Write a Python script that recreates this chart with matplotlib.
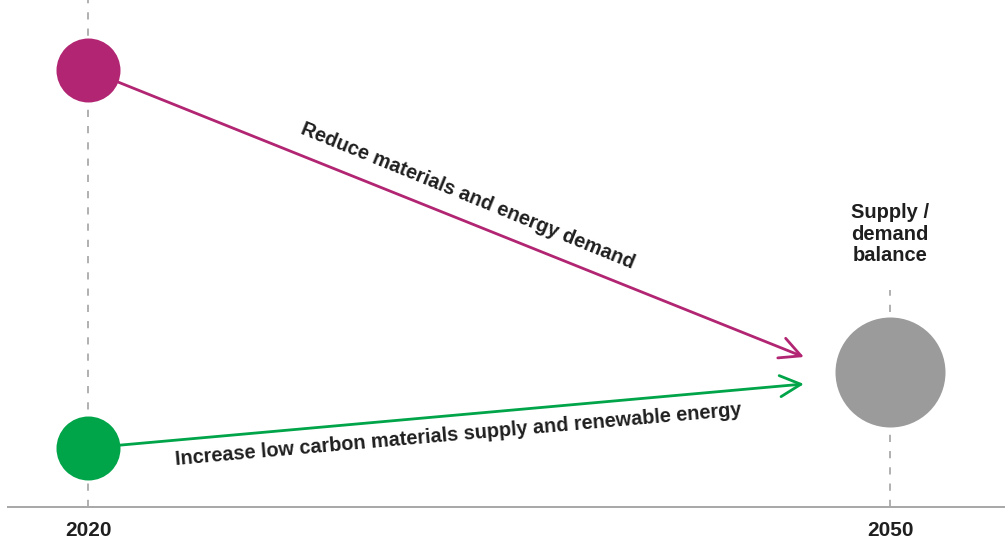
import matplotlib
matplotlib.use("Agg")
import matplotlib.pyplot as plt

# ---- data ----
years = [2020, 2050]
year_labels = ["2020", "2050"]
demand_start = 470          # level of demand circle at 2020
supply_start = 92           # level of supply circle at 2020
balance_level = 168         # balance circle level at 2050
arrow_end_year = 2046.78
demand_end = 183
supply_end = 156
demand_label = "Reduce materials and energy demand"
supply_label = "Increase low carbon materials supply and renewable energy"
balance_label = "Supply /\ndemand\nbalance"

# ---- style ----
MAGENTA = "#B12572"
GREEN = "#00A449"
GREY = "#9B9B9B"
TEXT = "#1f1f1f"
FONT = ["Liberation Sans", "DejaVu Sans"]

W, H = 1005, 540
fig = plt.figure(figsize=(W / 100, H / 100), dpi=100)
ax = fig.add_axes([0, 0, 1, 1])
ppy = (890 - 88) / 30.0
ax.set_xlim(2020 - 88 / ppy, 2020 + (W - 88) / ppy)
ax.set_ylim(0, H)
ax.axis("off")

baseline = 33
# baseline
ax.plot([2020 - 81 / ppy, 2020 + (W - 88) / ppy], [baseline, baseline],
        color="#A0A0A0", lw=1.3, solid_capstyle="butt", zorder=1)
# dashed verticals
ax.plot([years[0], years[0]], [baseline, H], color="#AAAAAA", lw=1.3,
        dashes=(4, 5), zorder=1)
ax.plot([years[1], years[1]], [baseline, 250], color="#AAAAAA", lw=1.3,
        dashes=(4, 5), zorder=1)

# circles
ax.scatter([years[0]], [demand_start], s=(64 * 0.72) ** 2, color=MAGENTA,
           zorder=3, linewidths=0)
ax.scatter([years[0]], [supply_start], s=(64 * 0.72) ** 2, color=GREEN,
           zorder=3, linewidths=0)
ax.scatter([years[1]], [balance_level], s=(110 * 0.72) ** 2, color=GREY,
           zorder=3, linewidths=0)

# arrows
for y0, y1, col in [(demand_start, demand_end, MAGENTA),
                    (supply_start, supply_end, GREEN)]:
    ax.annotate("", xy=(arrow_end_year, y1), xytext=(years[0], y0),
                arrowprops=dict(arrowstyle="->,head_length=0.75,head_width=0.38",
                                color=col, lw=2.0, shrinkA=22, shrinkB=0,
                                mutation_scale=20),
                zorder=2)

# arrow labels
ax.text(2020 + (468 - 88) / ppy, H - 196, demand_label, rotation=-22.2,
        rotation_mode="anchor", ha="center", va="center", fontsize=14.3,
        fontweight="bold", color=TEXT, family=FONT)
ax.text(2020 + (458 - 88) / ppy, H - 435, supply_label, rotation=5.0,
        rotation_mode="anchor", ha="center", va="center", fontsize=14.3,
        fontweight="bold", color=TEXT, family=FONT)

# balance label
ax.text(years[1], H - 234, balance_label, ha="center", va="center",
        fontsize=14.5, fontweight="bold", color=TEXT, family=FONT,
        linespacing=1.14)

# year labels
for yr, lab in zip(years, year_labels):
    ax.text(yr, H - 531, lab, ha="center", va="center", fontsize=15,
            fontweight="bold", color=TEXT, family=FONT)

fig.savefig("out.png", dpi=100)
